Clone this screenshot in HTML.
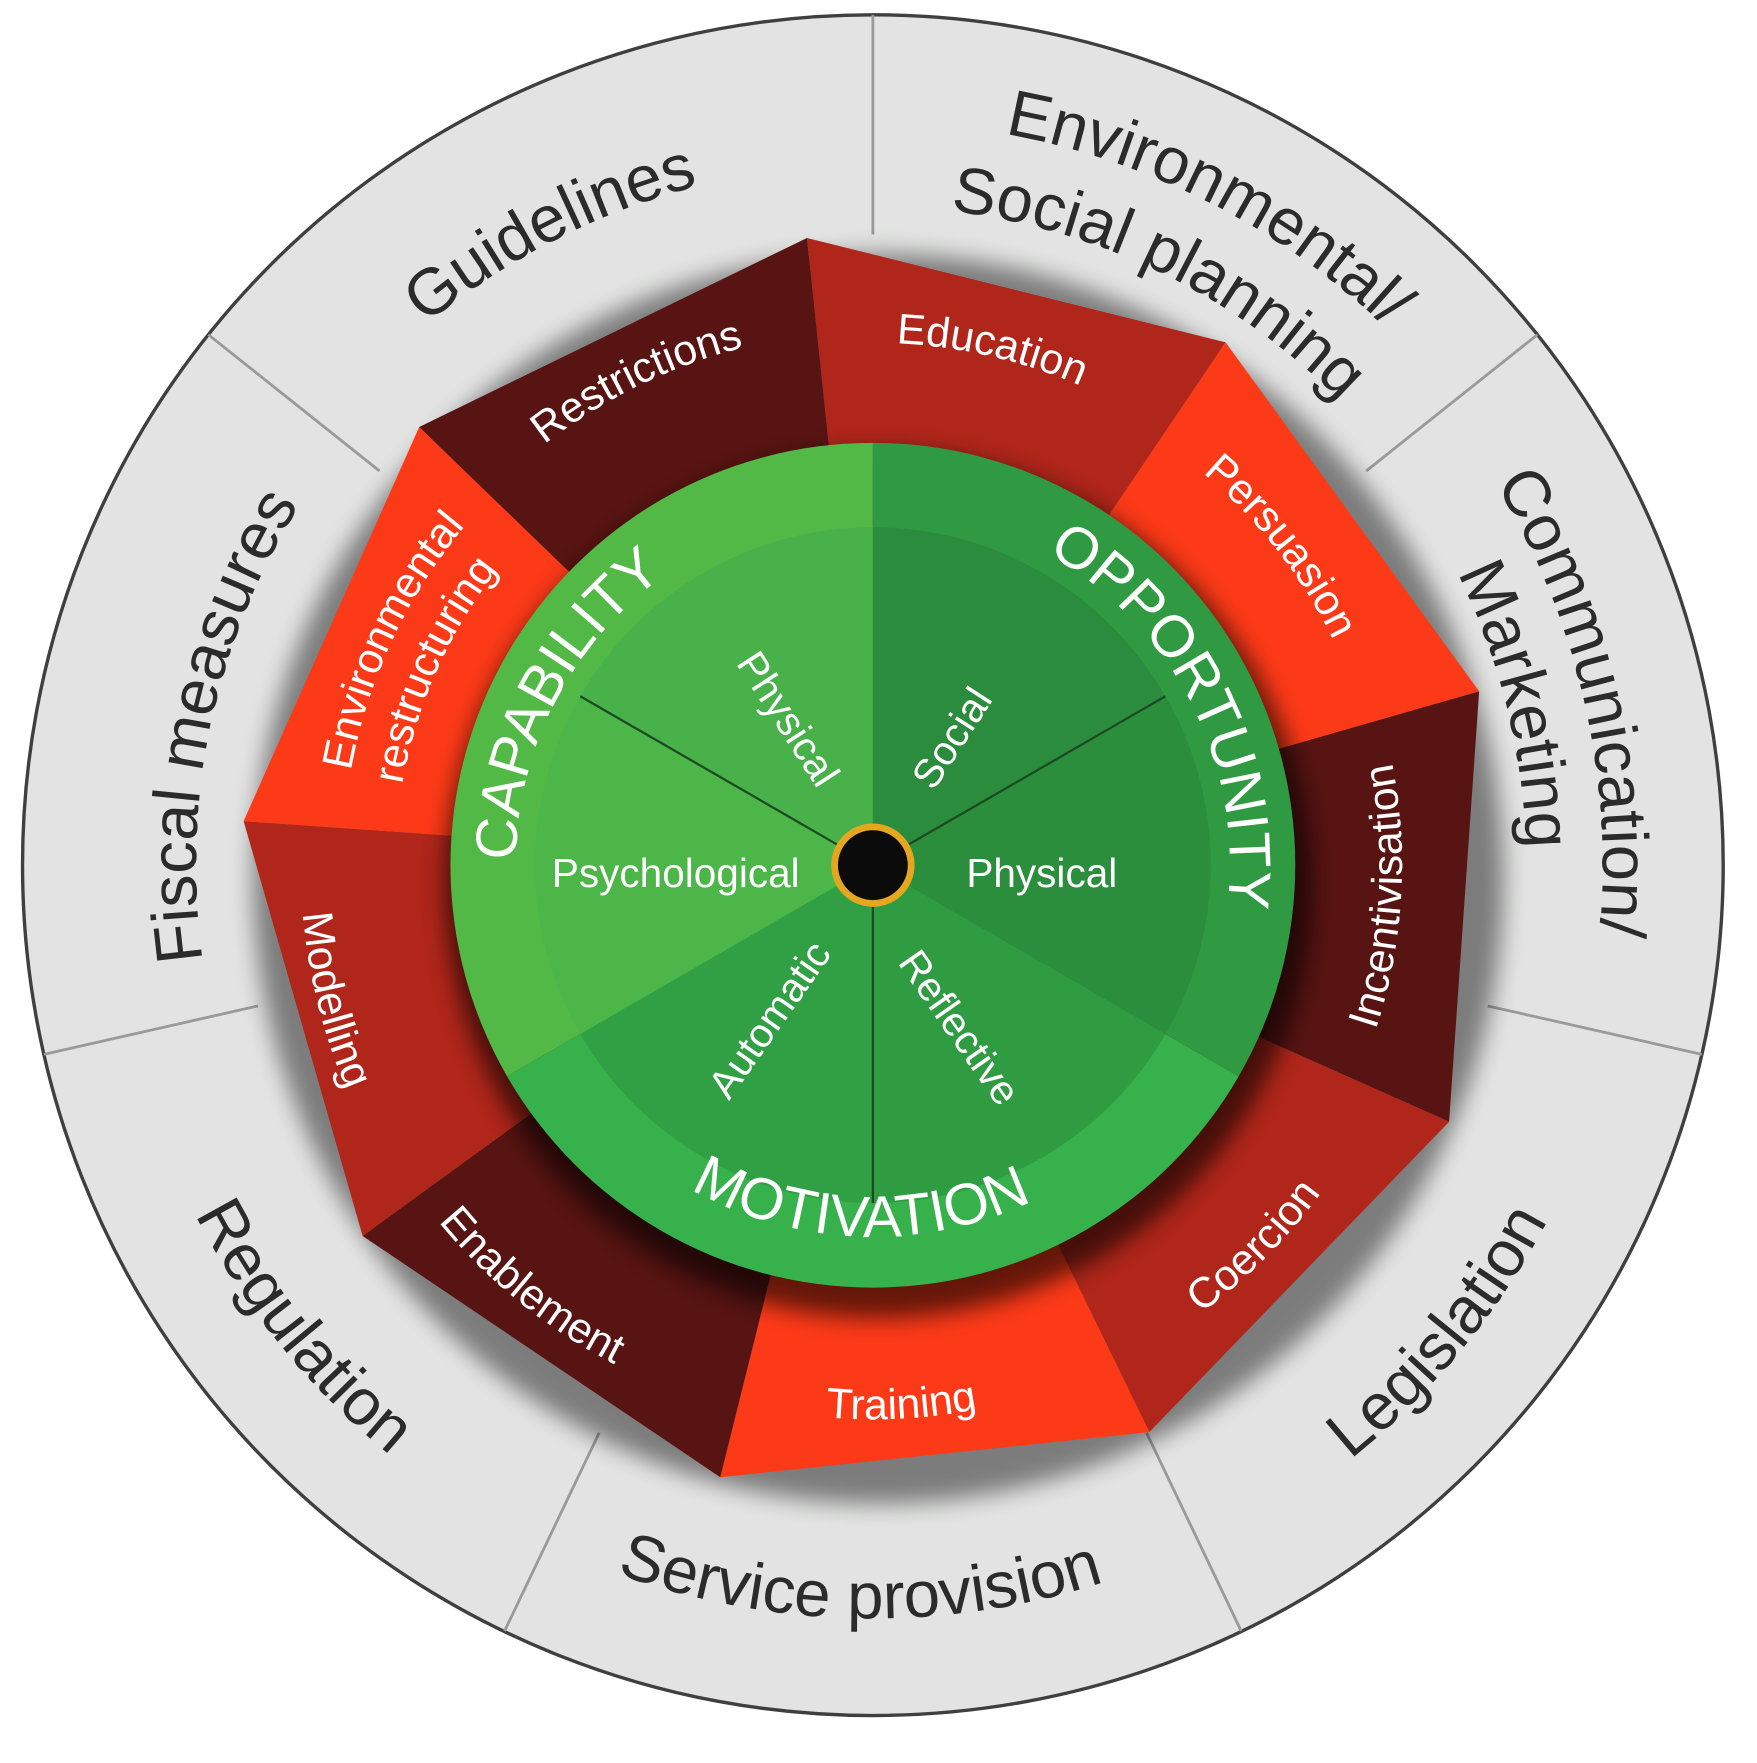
<!DOCTYPE html>
<html><head><meta charset="utf-8"><style>
html,body{margin:0;padding:0;background:#fff;}
svg{display:block;}
text{font-family:"Liberation Sans",sans-serif;}
</style></head><body>
<svg width="1757" height="1763" viewBox="0 0 1560 1565" xmlns="http://www.w3.org/2000/svg">
<defs>
<filter id="sh" x="-20%" y="-20%" width="140%" height="140%"><feGaussianBlur stdDeviation="10"/></filter>
<path id="cw623" d="M152,768 A623,623 0 0 1 1398,768"/>
<path id="cw660" d="M115,768 A660,660 0 0 1 1435,768"/>
<path id="cw585" d="M190,768 A585,585 0 0 1 1360,768"/>
<path id="cw648" d="M127,768 A648,648 0 0 1 1423,768"/>
<path id="cw580" d="M195,768 A580,580 0 0 1 1355,768"/>
<path id="cw601" d="M174,768 A601,601 0 0 1 1376,768"/>
<path id="ccw677" d="M98,768 A677,677 0 0 0 1452,768"/>
<path id="ccw669" d="M106,768 A669,669 0 0 0 1444,768"/>
<path id="cw464" d="M311,768 A464,464 0 0 1 1239,768"/>
<path id="cw474" d="M301,768 A474,474 0 0 1 1249,768"/>
<path id="cw455" d="M320,768 A455,455 0 0 1 1230,768"/>
<path id="cw471" d="M304,768 A471,471 0 0 1 1246,768"/>
<path id="cw424" d="M351,768 A424,424 0 0 1 1199,768"/>
<path id="ccw470" d="M305,768 A470,470 0 0 0 1245,768"/>
<path id="ccw493" d="M282,768 A493,493 0 0 0 1268,768"/>
<path id="ccw492" d="M283,768 A492,492 0 0 0 1267,768"/>
<path id="ccw499" d="M276,768 A499,499 0 0 0 1274,768"/>
<path id="ccw508" d="M267,768 A508,508 0 0 0 1283,768"/>
<path id="cw317" d="M458,768 A317,317 0 0 1 1092,768"/>
<path id="ccw330" d="M445,768 A330,330 0 0 0 1105,768"/>
</defs>

<circle cx="775" cy="768" r="755" fill="#e2e3e2" stroke="#3f3f3f" stroke-width="3"/>
<g stroke="#9a9a9a" stroke-width="2.5">
<line x1="775" y1="208" x2="775" y2="13"/>
<line x1="1213" y1="418" x2="1365" y2="297"/>
<line x1="1321" y1="893" x2="1511" y2="936"/>
<line x1="1018" y1="1272" x2="1102" y2="1448"/>
<line x1="532" y1="1272" x2="448" y2="1448"/>
<line x1="229" y1="893" x2="39" y2="936"/>
<line x1="337" y1="418" x2="185" y2="297"/>
</g>

<circle cx="780" cy="780" r="555" fill="#000" opacity="0.45" filter="url(#sh)"/>

<g stroke="none">
<polygon points="775,768 716.5,211.1 1088.2,303.8" fill="#b0261a"/>
<polygon points="775,768 1088.2,303.8 1313.3,613.7" fill="#fc3a18"/>
<polygon points="775,768 1313.3,613.7 1286.6,995.8" fill="#571412"/>
<polygon points="775,768 1286.6,995.8 1020.5,1271.3" fill="#b0261a"/>
<polygon points="775,768 1020.5,1271.3 639.5,1311.4" fill="#fc3a18"/>
<polygon points="775,768 639.5,1311.4 322,1097.2" fill="#571412"/>
<polygon points="775,768 322,1097.2 216.3,728.9" fill="#b0261a"/>
<polygon points="775,768 216.3,728.9 372.2,379" fill="#fc3a18"/>
<polygon points="775,768 372.2,379 716.5,211.1" fill="#571412"/>
</g>

<circle cx="780" cy="785" r="385" fill="#000" opacity="0.6" filter="url(#sh)"/>

<path d="M775,768 L775,393 A375,375 0 0 0 450.2,955.5 Z" fill="#52b947"/>
<path d="M775,768 L775,393 A375,375 0 0 1 1099.8,955.5 Z" fill="#2f9a42"/>
<path d="M775,768 L1099.8,955.5 A375,375 0 0 1 450.2,955.5 Z" fill="#37b14b"/>
<path d="M775,768 L515.2,618 A300,300 0 0 1 775,468 Z" fill="#48b14a"/>
<path d="M775,768 L515.2,918 A300,300 0 0 1 515.2,618 Z" fill="#4cb649"/>
<path d="M775,768 L775,468 A300,300 0 0 1 1034.8,618 Z" fill="#2a8c3c"/>
<path d="M775,768 L1034.8,618 A300,300 0 0 1 1034.8,918 Z" fill="#2b8e3d"/>
<path d="M775,768 L1034.8,918 A300,300 0 0 1 775,1068 Z" fill="#2f9c42"/>
<path d="M775,768 L775,1068 A300,300 0 0 1 515.2,918 Z" fill="#31a044"/>
<g stroke="#1d4a22" stroke-width="2">
<line x1="775" y1="768" x2="515.2" y2="618"/>
<line x1="775" y1="768" x2="1034.8" y2="618"/>
<line x1="775" y1="768" x2="775" y2="1068"/>
</g>
<circle cx="775" cy="768" r="37" fill="#e5a720"/>
<circle cx="775" cy="768" r="31" fill="#0b0b0b"/>

<g font-size="58" fill="#2b2b2b" text-anchor="middle">
<g transform="rotate(-27 775 768)"><text><textPath href="#cw623" startOffset="50%">Guidelines</textPath></text></g>
<g transform="rotate(27 775 768)"><text><textPath href="#cw660" startOffset="50%">Environmental/</textPath></text></g>
<g transform="rotate(26 775 768)"><text><textPath href="#cw585" startOffset="50%">Social planning</textPath></text></g>
<g transform="rotate(77 775 768)"><text><textPath href="#cw648" startOffset="50%">Communication/</textPath></text></g>
<g transform="rotate(76 775 768)"><text><textPath href="#cw580" startOffset="50%">Marketing</textPath></text></g>
<g transform="rotate(-50.5 775 768)"><text><textPath href="#ccw677" startOffset="50%">Legislation</textPath></text></g>
<g transform="rotate(1 775 768)"><text><textPath href="#ccw669" startOffset="50%">Service provision</textPath></text></g>
<g transform="rotate(51 775 768)"><text><textPath href="#ccw677" startOffset="50%">Regulation</textPath></text></g>
<g transform="rotate(282 775 768)"><text><textPath href="#cw601" startOffset="50%">Fiscal measures</textPath></text></g>
</g>

<g font-size="38" fill="#ffffff" text-anchor="middle">
<g transform="rotate(13 775 768)"><text><textPath href="#cw464" startOffset="50%">Education</textPath></text></g>
<g transform="rotate(-26 775 768)"><text><textPath href="#cw474" startOffset="50%">Restrictions</textPath></text></g>
<g transform="rotate(52 775 768)"><text><textPath href="#cw455" startOffset="50%">Persuasion</textPath></text></g>
<g transform="rotate(-86.5 775 768)"><text><textPath href="#ccw470" startOffset="50%">Incentivisation</textPath></text></g>
<g transform="rotate(-45 775 768)"><text><textPath href="#ccw493" startOffset="50%">Coercion</textPath></text></g>
<g transform="rotate(-3 775 768)"><text><textPath href="#ccw492" startOffset="50%">Training</textPath></text></g>
<g transform="rotate(39 775 768)"><text><textPath href="#ccw499" startOffset="50%">Enablement</textPath></text></g>
<g transform="rotate(76 775 768)"><text><textPath href="#ccw508" startOffset="50%">Modelling</textPath></text></g>
<g transform="rotate(295 775 768)"><text><textPath href="#cw471" startOffset="50%">Environmental</textPath></text></g>
<g transform="rotate(294 775 768)"><text><textPath href="#cw424" startOffset="50%">restructuring</textPath></text></g>
</g>

<g font-size="52" fill="#ffffff" text-anchor="middle">
<g transform="rotate(297.5 775 768)"><text><textPath href="#cw317" startOffset="50%">CAPABILITY</textPath></text></g>
<g transform="rotate(63 775 768)"><text><textPath href="#cw317" startOffset="50%">OPPORTUNITY</textPath></text></g>
<g transform="rotate(2 775 768)"><text><textPath href="#ccw330" startOffset="50%">MOTIVATION</textPath></text></g>
</g>

<g font-size="36" fill="#ffffff" text-anchor="middle" dominant-baseline="central">
<text x="600" y="775">Psychological</text>
<text x="925" y="775">Physical</text>
<text transform="translate(700 638) rotate(57)">Physical</text>
<text transform="translate(845 655) rotate(-57)">Social</text>
<text transform="translate(683 905) rotate(-55)">Automatic</text>
<text transform="translate(852 912) rotate(55)">Reflective</text>
</g>
</svg>
</body></html>
